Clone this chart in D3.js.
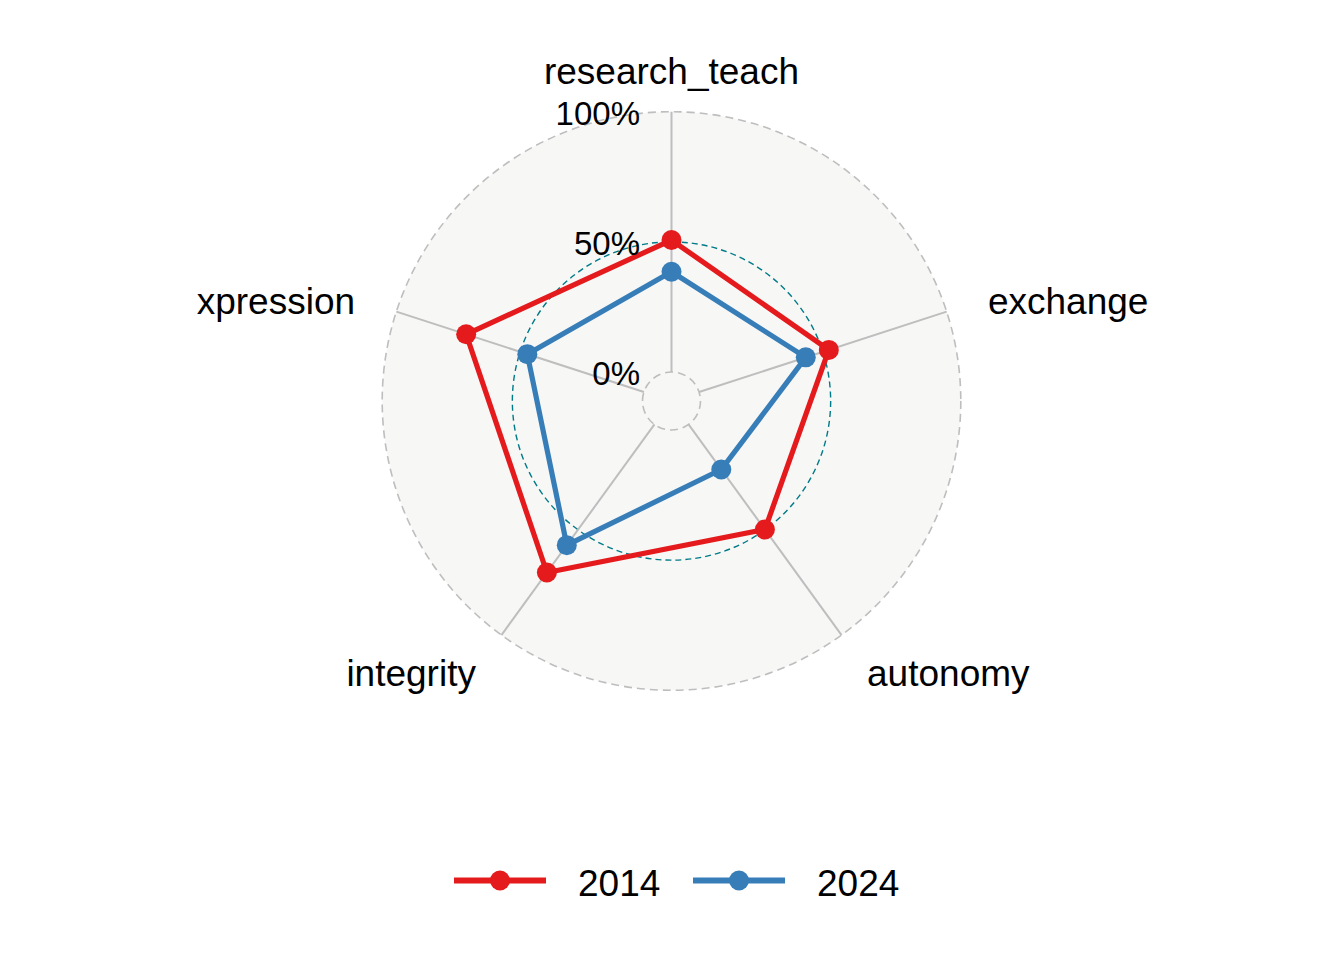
<!DOCTYPE html>
<html>
<head>
<meta charset="utf-8">
<script src="https://cdn.jsdelivr.net/npm/d3@7"></script>
<style>
  html, body { margin: 0; padding: 0; background: #ffffff; }
  svg { display: block; font-family: "Liberation Sans", Arial, sans-serif; }
</style>
</head>
<body>
<svg id="chart" width="1344" height="960"></svg>
<script>
// ---- data ----
const axes = ["research_teach", "exchange", "autonomy", "integrity", "xpression"];
const seriesNames = ["2014", "2024"];
const values2014 = [0.507, 0.524, 0.499, 0.703, 0.718];
const values2024 = [0.385, 0.431, 0.214, 0.573, 0.471];
const gridValues = [0, 0.5, 1];
const gridLabels = ["0%", "50%", "100%"];
const seriesColors = ["#E41A1C", "#377EB8"];

// ---- layout ----
const cx = 671.5, cy = 401;
const svg = d3.select("#chart");

const r = d3.scaleLinear().domain([0, 1]).range([29, 289.3]);
const angle = d3.scalePoint().domain(axes).range([0, 2 * Math.PI * (axes.length - 1) / axes.length]);
const px = (a, rad) => cx + rad * Math.sin(angle(a));
const py = (a, rad) => cy - rad * Math.cos(angle(a));

const g = svg.append("g");

// background circle
g.append("circle").attr("cx", cx).attr("cy", cy).attr("r", r(1))
  .attr("fill", "#F7F7F6").attr("stroke", "none");

// grid circles
gridValues.forEach(v => {
  const mid = v === 0.5;
  g.append("circle").attr("cx", cx).attr("cy", cy).attr("r", r(v))
    .attr("fill", "none")
    .attr("stroke", mid ? "#007A87" : "#BEBEBE")
    .attr("stroke-width", mid ? 1.4 : 1.6)
    .attr("stroke-dasharray", mid ? "6,4" : "8,5");
});

// axis lines
g.selectAll("line.axis").data(axes).enter().append("line")
  .attr("class", "axis")
  .attr("x1", d => px(d, r(0))).attr("y1", d => py(d, r(0)))
  .attr("x2", d => px(d, r(1))).attr("y2", d => py(d, r(1)))
  .attr("stroke", "#BEBEBE").attr("stroke-width", 2);

// series polygons and points
const allSeries = [values2014, values2024];
const lineGen = d3.lineRadial().angle((d, i) => angle(axes[i])).radius(d => r(d)).curve(d3.curveLinearClosed);
allSeries.forEach((vals, si) => {
  const sg = g.append("g").attr("transform", `translate(${cx},${cy})`);
  sg.append("path").attr("d", lineGen(vals))
    .attr("fill", "none").attr("stroke", seriesColors[si])
    .attr("stroke-width", 5.2).attr("stroke-linejoin", "round");
  sg.selectAll("circle").data(vals).enter().append("circle")
    .attr("cx", (d, i) => r(d) * Math.sin(angle(axes[i])))
    .attr("cy", (d, i) => -r(d) * Math.cos(angle(axes[i])))
    .attr("r", 10).attr("fill", seriesColors[si]);
});

// grid labels
g.selectAll("text.grid").data(gridValues).enter().append("text")
  .attr("class", "grid")
  .attr("x", cx - 31.5).attr("y", d => cy - r(d))
  .attr("dy", "0.4em").attr("text-anchor", "end")
  .attr("font-size", 33).attr("fill", "#000")
  .text((d, i) => gridLabels[i]);

// axis labels
const labR = r(1) * 1.15;
g.selectAll("text.axlab").data(axes).enter().append("text")
  .attr("class", "axlab")
  .attr("x", d => px(d, labR)).attr("y", d => py(d, labR))
  .attr("dy", "0.42em")
  .attr("text-anchor", d => {
    const s = Math.sin(angle(d));
    return Math.abs(s) < 1e-6 ? "middle" : (s > 0 ? "start" : "end");
  })
  .attr("font-size", 37).attr("fill", "#000")
  .text(d => d);

// legend
const legY = 880.5;
const legStarts = [454, 693];
seriesNames.forEach((name, i) => {
  const x0 = legStarts[i];
  const lg = svg.append("g");
  lg.append("line").attr("x1", x0).attr("x2", x0 + 92).attr("y1", legY).attr("y2", legY)
    .attr("stroke", seriesColors[i]).attr("stroke-width", 6);
  lg.append("circle").attr("cx", x0 + 46).attr("cy", legY).attr("r", 10).attr("fill", seriesColors[i]);
  lg.append("text").attr("x", x0 + 124).attr("y", legY).attr("dy", "0.42em")
    .attr("font-size", 37).attr("fill", "#000").text(name);
});
</script>
</body>
</html>
